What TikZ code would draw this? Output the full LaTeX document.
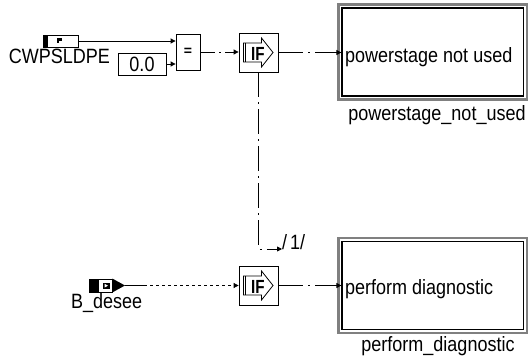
\documentclass[tikz,border=0pt]{standalone}
\usepackage{fontspec}
\setmainfont{Liberation Sans}
\usetikzlibrary{arrows.meta}
\newcommand\tx[1]{\scalebox{1}[1.15]{#1}}
\newcommand\IFicon[1]{%
  \begin{scope}[shift={(#1.center)}]
    \draw[line width=0.8pt] (-15,-9.5) -- (3,-9.5) -- (3,-14.5) -- (14.5,0) -- (3,14.5) -- (3,9.5) -- (-15,9.5) -- cycle;
    \draw[line width=0.8pt] (-12.8,-9.5) -- (-12.8,9.5);
    \node[inner sep=0pt, font=\bfseries\fontsize{19}{19}\selectfont] at (-0.6,1.3) {\scalebox{0.8}[1]{IF}};
  \end{scope}}
\begin{document}
\begin{tikzpicture}[x=1pt,y=-1pt,
  blk/.style={draw, line width=0.8pt, inner sep=0pt, fill=white},
  lbl/.style={inner sep=0pt, font=\fontsize{18}{20}\selectfont},
  tip/.style={-{Triangle[length=5pt,width=5pt]}},
  conn/.style={line width=0.8pt},
  ddshort/.style={dash pattern=on 15pt off 4pt on 2pt off 4pt on 60pt},
  ddlong/.style={dash pattern=on 25pt off 5pt on 2pt off 5pt on 80pt},
  ddrep/.style={dash pattern=on 25pt off 5pt on 2pt off 5pt},
  dotpat/.style={dash pattern=on 22pt off 3pt on 3pt off 3pt on 3pt off 3pt on 3pt off 3pt on 3pt off 3pt on 3pt off 3pt on 3pt off 3pt on 3pt off 3pt on 3pt off 3pt on 3pt off 3pt on 3pt off 3pt on 3pt off 3pt on 3pt off 3pt on 3pt off 3pt on 3pt off 3pt on 3pt off 3pt on 40pt},
  subbox/.style={draw, line width=1.2pt, inner sep=0pt, minimum width=181.5pt, minimum height=88pt},
  outer/.style={line width=2.3pt, draw=black!50}
]
\useasboundingbox (0,0) rectangle (530,358);

% CWPSLDPE inport
\node[blk, minimum width=35pt, minimum height=12pt] (cw) at (60.5,41) {};
\fill (cw.north west) rectangle ([xshift=5pt]cw.south west);
\fill (57,38) rectangle (61.5,41.5);
\fill (57,41.5) rectangle (58.6,43.5);
\node[lbl, anchor=base] (cwl) at (59.5,64) {\tx{CWPSLDPE}};

% constant
\node[blk, lbl, minimum width=48pt, minimum height=22pt] (c0) at (142,64) {\tx{0.0}};

% comparison
\node[blk, minimum width=24pt, minimum height=36pt, font=\bfseries\fontsize{14}{14}\selectfont] (eq) at (188,52) {=};

% IF blocks
\node[blk, minimum size=39pt] (if1) at (258.5,52.5) {};
\IFicon{if1}
\node[blk, minimum size=39pt] (if2) at (258.5,285.5) {};
\IFicon{if2}

% subsystems
\node[subbox] (sub1) at (432.75,52) {};
\draw[outer] ([xshift=-2.8pt,yshift=2.8pt]sub1.north west) rectangle ([xshift=2.8pt,yshift=-2.8pt]sub1.south east);
\node[lbl, anchor=base west] (sub1t) at (345,63) {\tx{powerstage not used}};
\node[lbl, anchor=base] (sub1c) at (437,121) {\tx{powerstage\_not\_used}};

\node[subbox] (sub2) at (432.75,285.5) {};
\draw[outer] ([xshift=-2.8pt,yshift=2.8pt]sub2.north west) rectangle ([xshift=2.8pt,yshift=-2.8pt]sub2.south east);
\node[lbl, anchor=base west] (sub2t) at (345,294) {\tx{perform diagnostic}};
\node[lbl, anchor=base] (sub2c) at (438,351) {\tx{perform\_diagnostic}};

% B_desee inport
\node[blk, minimum width=23pt, minimum height=13pt] (bd) at (100.5,285.5) {};
\fill (bd.north west) rectangle ([xshift=10pt]bd.south west);
\fill (102.5,282.5) rectangle (109.5,289);
\fill[white] (104.5,283.8) -- (108,285.7) -- (104.5,287.6) -- cycle;
\coordinate (bdtip) at (125,285.5);
\fill (bd.north east) -- (bdtip) -- (bd.south east) -- cycle;
\node[lbl, anchor=base] (bdl) at (106.7,308) {\tx{B\_desee}};

% connectors
\draw[conn,tip] (cw.east) -- (cw.east -| eq.west);
\draw[conn,tip] (c0.east) -- (c0.east -| eq.west);
\draw[conn,tip,ddshort] (eq.east) -- (eq.east -| if1.west);
\draw[conn,tip,ddlong] (if1.east) -- (if1.east -| sub1.west);
\coordinate (crn) at (258.5,249);
\coordinate (ctl) at (282,249);
\draw[conn,tip,ddrep] (if1.south) -- (crn) -- (ctl);
\node[lbl, anchor=base west] (ctll) at (282,249) {\tx{/\kern3pt1/}};
\draw[conn,tip,dotpat] (bdtip) -- (bdtip -| if2.west);
\draw[conn,tip,ddlong] (if2.east) -- (if2.east -| sub2.west);
\end{tikzpicture}
\end{document}
